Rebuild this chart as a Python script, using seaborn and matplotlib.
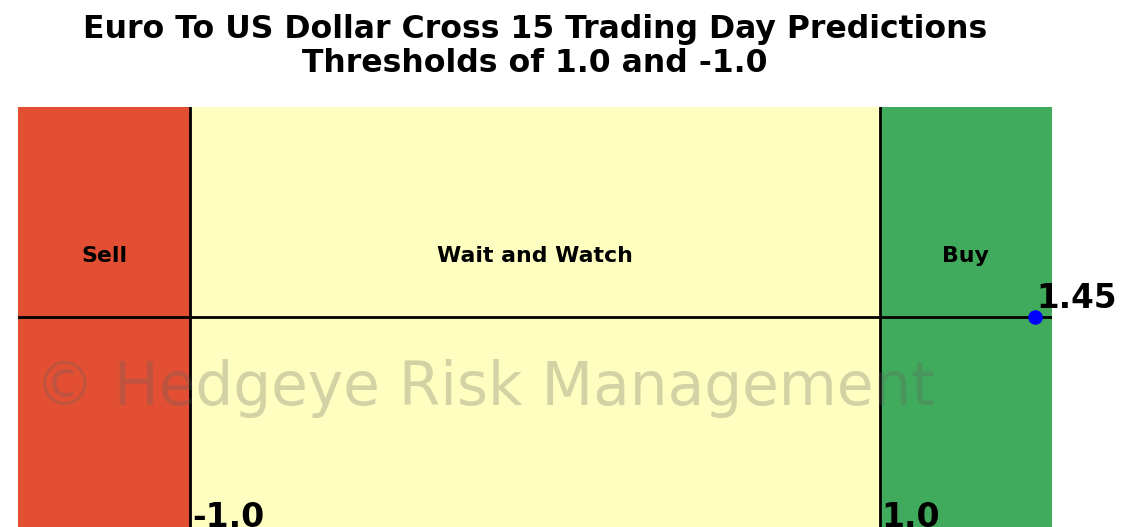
import matplotlib
matplotlib.use("Agg")
import matplotlib.pyplot as plt
import seaborn as sns
import pandas as pd

# Signal zones along the prediction axis
zone_labels = ["Sell", "Wait and Watch", "Buy"]
zone_edges = [-1.5, -1.0, 1.0, 1.5]
zone_colors = ["#E34F33", "#FEFEC0", "#41AB5D"]

# Decision thresholds and the current prediction
thresholds = [-1.0, 1.0]
threshold_labels = ["-1.0", "1.0"]
prediction = [1.45]
prediction_label = ["1.45"]

sns.set_theme(style="white")
plt.rcParams["font.family"] = ["DejaVu Sans"]

W, H, DPI = 1145, 527, 100
fig = plt.figure(figsize=(W / DPI, H / DPI), dpi=DPI)
ax = fig.add_axes([18 / W, 0, (1052 - 18) / W, 420 / H])

for i, lab in enumerate(zone_labels):
    lo, hi = zone_edges[i], zone_edges[i + 1]
    ax.axvspan(lo, hi, color=zone_colors[i], lw=0, zorder=0)
    ax.text((lo + hi) / 2, 0.29, lab, ha="center", va="center",
            fontsize=15.8, fontweight="bold", color="black", zorder=3)

for t, tl in zip(thresholds, threshold_labels):
    ax.axvline(t, color="black", lw=2, zorder=2)
    ax.text(t + 0.005, -1.0, tl, ha="left", va="baseline",
            fontsize=23.8, fontweight="bold", color="black", zorder=3,
            clip_on=False)

ax.axhline(0, color="black", lw=2, zorder=2)

df = pd.DataFrame({"x": prediction, "y": [0.0]})
sns.scatterplot(data=df, x="x", y="y", ax=ax, color="blue", s=110,
                edgecolor="blue", linewidth=0, zorder=4, clip_on=False)
for x, lab in zip(prediction, prediction_label):
    ax.text(x + 0.005, 0.045, lab, ha="left", va="baseline",
            fontsize=23.5, fontweight="bold", color="black", zorder=5,
            clip_on=False)

ax.set_xlim(zone_edges[0], zone_edges[-1])
ax.set_ylim(-1, 1)
ax.set_xlabel("")
ax.set_ylabel("")
ax.set_xticks([])
ax.set_yticks([])
for s in ax.spines.values():
    s.set_visible(False)

ax.set_title("Euro To US Dollar Cross 15 Trading Day Predictions\nThresholds of 1.0 and -1.0",
             fontsize=22.7, fontweight="bold", color="black", pad=25, linespacing=1.15)

fig.text(35 / W, 1 - 388 / H, "\u00a9 Hedgeye Risk Management", ha="left", va="center",
         fontsize=43, fontweight="normal", color="#606060", alpha=0.28,
         family=["DejaVu Sans"], zorder=10)

fig.savefig("out.png", dpi=DPI)
